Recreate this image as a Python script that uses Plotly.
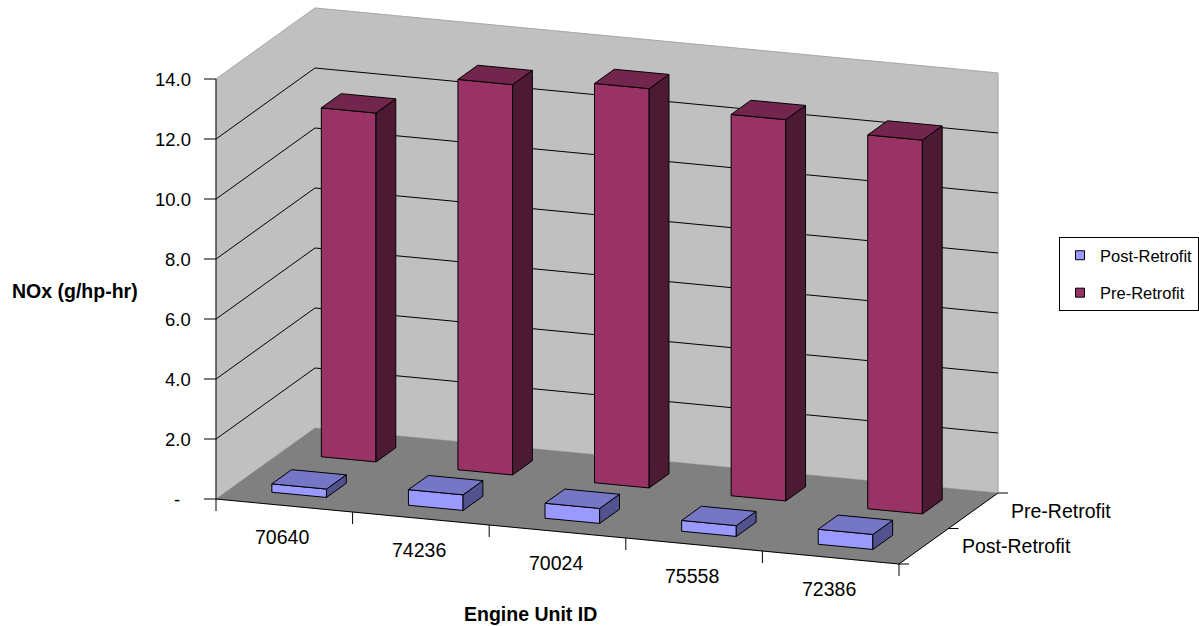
import plotly.graph_objects as go

# ---- data -------------------------------------------------------------
units = ["70640", "74236", "70024", "75558", "72386"]
series_names = ["Post-Retrofit", "Pre-Retrofit"]
post_retrofit = [0.28, 0.52, 0.50, 0.36, 0.50]
pre_retrofit = [11.63, 13.01, 13.31, 12.71, 12.46]
value_ticks = [0, 2, 4, 6, 8, 10, 12, 14]
value_tick_text = ["-", "2.0", "4.0", "6.0", "8.0", "10.0", "12.0", "14.0"]

series_values = [post_retrofit, pre_retrofit]

# ---- styling ------------------------------------------------------------
FONT = "Liberation Sans, Arial, sans-serif"
FACE = {
    "Post-Retrofit": dict(front="#9999ff", top="#7676c6", side="#52528e"),
    "Pre-Retrofit": dict(front="#993366", top="#73264d", side="#4d1a33"),
}
WALL = "#c0c0c0"
FLOOR = "#808080"

# ---- oblique 3D -> 2D projection of the plot box -----------------------
ORIGIN = (216, 499)   # front-left corner of the floor
XVEC = (683, 65)      # full category extent
DVEC = (99, -71)      # full series depth
ZUNIT = 30            # per g/hp-hr
ZMAX = value_ticks[-1]
GAP = 0.3             # gap on each side of a bar inside its slot


def proj(x, d, z):
    return (ORIGIN[0] + XVEC[0] * x + DVEC[0] * d,
            ORIGIN[1] + XVEC[1] * x + DVEC[1] * d - ZUNIT * z)


def polygon(pts, fill, line="black", width=1.0):
    xs = [p[0] for p in pts] + [pts[0][0]]
    ys = [p[1] for p in pts] + [pts[0][1]]
    return go.Scatter(x=xs, y=ys, mode="lines", fill="toself", fillcolor=fill,
                      line=dict(color=line, width=width), hoverinfo="skip",
                      showlegend=False)


def segment(a, b, color="black", width=1.0):
    return go.Scatter(x=[a[0], b[0]], y=[a[1], b[1]], mode="lines",
                      line=dict(color=color, width=width), hoverinfo="skip",
                      showlegend=False)


traces = []

# walls and floor
traces.append(polygon([proj(0, 0, 0), proj(0, 0, ZMAX), proj(0, 1, ZMAX), proj(0, 1, 0)],
                      WALL, line=WALL, width=0.5))
traces.append(polygon([proj(0, 1, 0), proj(0, 1, ZMAX), proj(1, 1, ZMAX), proj(1, 1, 0)],
                      WALL, line=WALL, width=0.5))
traces.append(polygon([proj(0, 0, 0), proj(1, 0, 0), proj(1, 1, 0), proj(0, 1, 0)],
                      FLOOR, line=FLOOR, width=0.5))
# light rim along the top of the walls
traces.append(go.Scatter(
    x=[proj(0, 0, ZMAX)[0], proj(0, 1, ZMAX)[0], proj(1, 1, ZMAX)[0], proj(1, 1, 0)[0]],
    y=[proj(0, 0, ZMAX)[1], proj(0, 1, ZMAX)[1], proj(1, 1, ZMAX)[1], proj(1, 1, 0)[1]],
    mode="lines", line=dict(color="#a8a8a8", width=1), hoverinfo="skip", showlegend=False))

# gridlines on the side and back walls
for v in value_ticks[1:-1]:
    traces.append(segment(proj(0, 0, v), proj(0, 1, v)))
    traces.append(segment(proj(0, 1, v), proj(1, 1, v)))

# axis lines
traces.append(segment(proj(0, 0, 0), proj(0, 0, ZMAX)))
traces.append(segment(proj(0, 0, 0), proj(1, 0, 0)))
traces.append(segment(proj(1, 0, 0), proj(1, 1, 0)))

# tick marks
for v in value_ticks:
    x0, y0 = proj(0, 0, v)
    traces.append(segment((x0 - 12, y0), (x0, y0)))
n_cat = len(units)
for i in range(n_cat + 1):
    x0, y0 = proj(i / n_cat, 0, 0)
    traces.append(segment((x0, y0), (x0, y0 + 12)))
n_ser = len(series_names)
for s in range(n_ser + 1):
    x0, y0 = proj(1, s / n_ser, 0)
    traces.append(segment((x0, y0), (x0 + 10, y0)))

# bars: back row first, then front row; left to right within a row
for s in reversed(range(n_ser)):
    name = series_names[s]
    col = FACE[name]
    d0, d1 = (s + GAP) / n_ser, (s + 1 - GAP) / n_ser
    for i, v in enumerate(series_values[s]):
        x0, x1 = (i + GAP) / n_cat, (i + 1 - GAP) / n_cat
        front = [proj(x0, d0, 0), proj(x1, d0, 0), proj(x1, d0, v), proj(x0, d0, v)]
        side = [proj(x1, d0, 0), proj(x1, d1, 0), proj(x1, d1, v), proj(x1, d0, v)]
        top = [proj(x0, d0, v), proj(x1, d0, v), proj(x1, d1, v), proj(x0, d1, v)]
        for pts, c in ((front, col["front"]), (side, col["side"]), (top, col["top"])):
            tr = polygon(pts, c)
            tr.legendgroup = name
            traces.append(tr)

# legend entries
for s, name in enumerate(series_names):
    traces.append(go.Scatter(
        x=[None], y=[None], mode="markers", name=name, legendgroup=name,
        marker=dict(symbol="square", size=9, color=FACE[name]["front"],
                    line=dict(color="black", width=1)),
        showlegend=True))

fig = go.Figure(traces)

LABEL = dict(color="black", family=FONT)
annotations = []
for v, t in zip(value_ticks, value_tick_text):
    x0, y0 = proj(0, 0, v)
    shift = -11 if t == "-" else 0
    annotations.append(dict(x=x0 - 23, y=y0, text=t, xanchor="right", yanchor="middle",
                            xshift=shift, showarrow=False, font=dict(size=18.5, **LABEL)))
for i, u in enumerate(units):
    x0, y0 = proj((i + 0.5) / n_cat, 0, 0)
    annotations.append(dict(x=x0 - 2, y=y0 + 31, text=u, xanchor="center", yanchor="middle",
                            showarrow=False, font=dict(size=19.5, **LABEL)))
for s, name in enumerate(series_names):
    x0, y0 = proj(1, (s + 0.5) / n_ser, 0)
    annotations.append(dict(x=x0 + 36, y=y0, text=name, xanchor="left", yanchor="middle",
                            showarrow=False, font=dict(size=19.5, **LABEL)))
annotations.append(dict(x=75, y=291, text="<b>NOx (g/hp-hr)</b>", xanchor="center",
                        yanchor="middle", showarrow=False, font=dict(size=19.5, **LABEL)))
annotations.append(dict(x=530, y=614, text="<b>Engine Unit ID</b>", xanchor="center",
                        yanchor="middle", showarrow=False, font=dict(size=19.5, **LABEL)))

fig.update_layout(
    width=1199, height=626,
    margin=dict(l=0, r=0, t=0, b=0),
    paper_bgcolor="white", plot_bgcolor="white",
    xaxis=dict(range=[0, 1199], visible=False, fixedrange=True),
    yaxis=dict(range=[626, 0], visible=False, fixedrange=True),
    annotations=annotations,
    showlegend=True,
    legend=dict(x=1059 / 1199, y=1 - 237 / 626, xanchor="left", yanchor="top",
                bordercolor="black", borderwidth=1, bgcolor="white",
                traceorder="grouped", tracegroupgap=13, itemwidth=30,
                font=dict(size=16.5, color="black", family=FONT)),
)

fig.write_html("out.html")
